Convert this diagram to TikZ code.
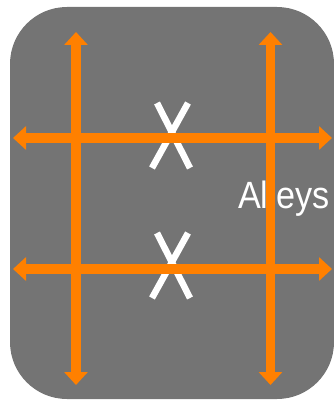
\documentclass[tikz,border=0pt]{standalone}
\usepackage{fontspec}
\setmainfont{Liberation Sans}
\usetikzlibrary{arrows.meta}
\definecolor{boardgray}{RGB}{116,116,116}
\definecolor{streetorange}{RGB}{255,128,0}
\tikzset{
  board/.style={fill=boardgray, rounded corners=57pt},
  street/.style={draw=streetorange, line width=9.5pt,
    {Triangle[length=13pt,width=23pt]}-{Triangle[length=13pt,width=23pt]}},
  blocked/.style={draw=white, line width=6.5pt},
  label/.style={text=white, font=\fontsize{38}{42}\selectfont, inner sep=0pt, anchor=base west, xscale=0.9}
}
\begin{document}
\begin{tikzpicture}[x=1pt,y=-1pt]
\useasboundingbox (0,0) rectangle (333,401);
\fill[board] (10,7) rectangle (334,399);
% label
\node[label] (alleys) at (238,208) {Alleys};
% X marks
\coordinate (x1a) at (157,103); \coordinate (x1b) at (190,168);
\coordinate (x1c) at (188,103); \coordinate (x1d) at (152,168);
\coordinate (x2a) at (157,233); \coordinate (x2b) at (190,298);
\coordinate (x2c) at (188,233); \coordinate (x2d) at (152,298);
\draw[blocked] (x1a) -- (x1b);
\draw[blocked] (x1c) -- (x1d);
\draw[blocked] (x2a) -- (x2b);
\draw[blocked] (x2c) -- (x2d);
% streets
\coordinate (v1t) at (76,32);   \coordinate (v1b) at (76,385);
\coordinate (v2t) at (270.5,32); \coordinate (v2b) at (270.5,385);
\coordinate (h1l) at (13,138);  \coordinate (h1r) at (332,138);
\coordinate (h2l) at (13,269);  \coordinate (h2r) at (332,269);
\draw[street] (v1b) -- (v1t);
\draw[street] (v2b) -- (v2t);
\draw[street] (h1l) -- (h1r);
\draw[street] (h2l) -- (h2r);
\end{tikzpicture}
\end{document}
